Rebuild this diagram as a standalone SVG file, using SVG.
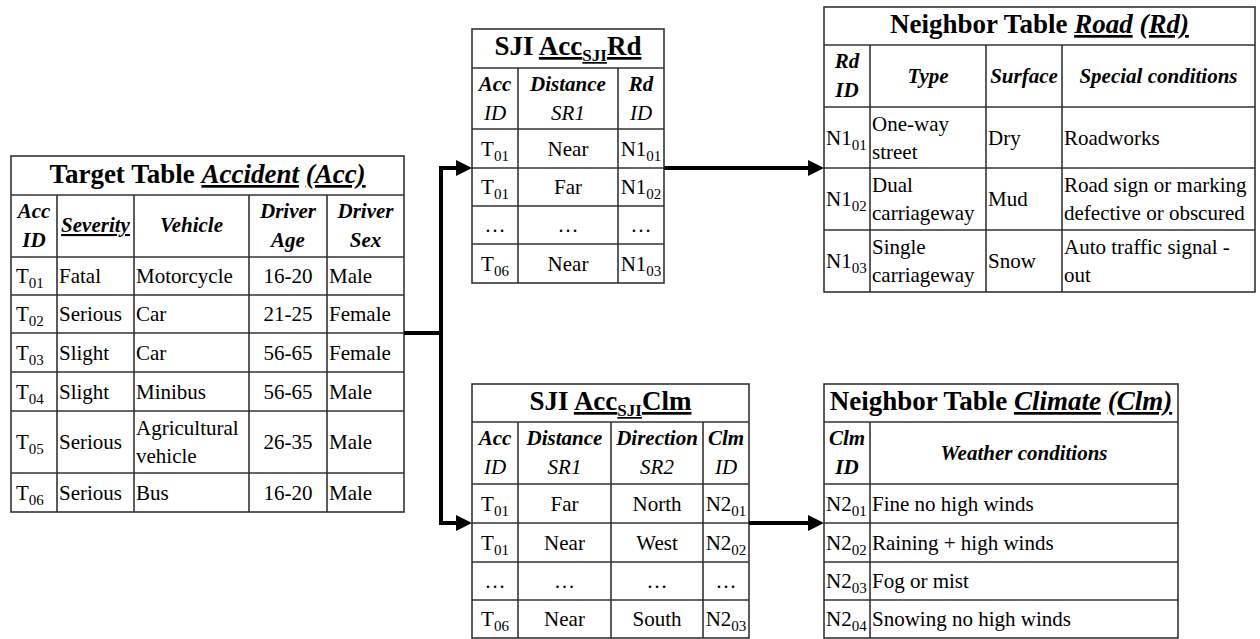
<svg xmlns="http://www.w3.org/2000/svg" width="1260" height="639" viewBox="0 0 1260 639" font-family="'Liberation Serif', 'Nimbus Roman', 'Nimbus Roman No9 L', FreeSerif, 'Noto Serif', 'DejaVu Serif', Times, Georgia, serif">
<style>
text { font-family: 'Liberation Serif', 'Nimbus Roman', 'Nimbus Roman No9 L', FreeSerif, 'Noto Serif', 'DejaVu Serif', Times, Georgia, serif; fill: #000; }
.title { font-size: 27px; font-weight: bold; }
.ts { font-size: 17px; }
.h { font-size: 21px; font-weight: bold; font-style: italic; }
.hi { font-size: 21px; font-style: italic; }
.d { font-size: 21px; }
.sub { font-size: 15px; }
.u { text-decoration: underline; }
.bi { font-style: italic; }
.m { text-anchor: middle; }
.box { fill: #fff; stroke: #333; stroke-width: 1.6; }
.grid { stroke: #333; stroke-width: 1.6; fill: none; }
.conn { stroke: #000; stroke-width: 4; fill: none; stroke-linejoin: miter; }
</style>
<defs>
<marker id="arr" viewBox="0 0 16 16" refX="6" refY="8" markerWidth="16" markerHeight="16" markerUnits="userSpaceOnUse" orient="auto">
<path d="M0,0 L16,8 L0,16 Z" fill="#000"/>
</marker>
</defs>
<rect width="1260" height="639" fill="#fff"/>

<g id="target-accident">
<rect class="box" x="11" y="156" width="393" height="356"/>
<path class="grid" d="M11,195 H404 M11,257 H404 M11,295 H404 M11,333 H404 M11,372 H404 M11,411 H404 M11,473 H404 M57,195 V512 M134,195 V512 M249,195 V512 M327,195 V512"/>
<text class="title m" x="207.5" y="183">Target Table <tspan class="u bi">Accident</tspan> <tspan class="u bi">(Acc)</tspan></text>
<text class="h m" x="34" y="218">Acc</text>
<text class="h m" x="34" y="247">ID</text>
<text class="h m u" x="95.5" y="232">Severity</text>
<text class="h m" x="191.5" y="232">Vehicle</text>
<text class="h m" x="288" y="218">Driver</text>
<text class="h m" x="288" y="247">Age</text>
<text class="h m" x="365.5" y="218">Driver</text>
<text class="h m" x="365.5" y="247">Sex</text>

<text class="d" x="16" y="283">T<tspan class="sub" dy="5">01</tspan></text>
<text class="d" x="59" y="283">Fatal</text>
<text class="d" x="136" y="283">Motorcycle</text>
<text class="d m" x="288" y="283">16-20</text>
<text class="d" x="329" y="283">Male</text>

<text class="d" x="16" y="321">T<tspan class="sub" dy="5">02</tspan></text>
<text class="d" x="59" y="321">Serious</text>
<text class="d" x="136" y="321">Car</text>
<text class="d m" x="288" y="321">21-25</text>
<text class="d" x="329" y="321">Female</text>

<text class="d" x="16" y="359.5">T<tspan class="sub" dy="5">03</tspan></text>
<text class="d" x="59" y="359.5">Slight</text>
<text class="d" x="136" y="359.5">Car</text>
<text class="d m" x="288" y="359.5">56-65</text>
<text class="d" x="329" y="359.5">Female</text>

<text class="d" x="16" y="398.5">T<tspan class="sub" dy="5">04</tspan></text>
<text class="d" x="59" y="398.5">Slight</text>
<text class="d" x="136" y="398.5">Minibus</text>
<text class="d m" x="288" y="398.5">56-65</text>
<text class="d" x="329" y="398.5">Male</text>

<text class="d" x="16" y="449">T<tspan class="sub" dy="5">05</tspan></text>
<text class="d" x="59" y="449">Serious</text>
<text class="d" x="136" y="435">Agricultural</text>
<text class="d" x="136" y="463">vehicle</text>
<text class="d m" x="288" y="449">26-35</text>
<text class="d" x="329" y="449">Male</text>

<text class="d" x="16" y="499.5">T<tspan class="sub" dy="5">06</tspan></text>
<text class="d" x="59" y="499.5">Serious</text>
<text class="d" x="136" y="499.5">Bus</text>
<text class="d m" x="288" y="499.5">16-20</text>
<text class="d" x="329" y="499.5">Male</text>
</g>

<g id="sji-acc-rd">
<rect class="box" x="472" y="29" width="192" height="254"/>
<path class="grid" d="M472,68 H664 M472,129 H664 M472,168 H664 M472,206 H664 M472,244 H664 M518,68 V283 M618,68 V283"/>
<text class="title m" x="568" y="55">SJI <tspan class="u">Acc</tspan><tspan class="ts u" dy="6">SJI</tspan><tspan class="u" dy="-6">Rd</tspan></text>
<text class="h m" x="495" y="91">Acc</text>
<text class="hi m" x="495" y="120">ID</text>
<text class="h m" x="568" y="91">Distance</text>
<text class="hi m" x="568" y="120">SR1</text>
<text class="h m" x="641" y="91">Rd</text>
<text class="hi m" x="641" y="120">ID</text>

<text class="d m" x="495" y="155.5">T<tspan class="sub" dy="5">01</tspan></text>
<text class="d m" x="568" y="155.5">Near</text>
<text class="d m" x="641" y="155.5">N1<tspan class="sub" dy="5">01</tspan></text>

<text class="d m" x="495" y="194">T<tspan class="sub" dy="5">01</tspan></text>
<text class="d m" x="568" y="194">Far</text>
<text class="d m" x="641" y="194">N1<tspan class="sub" dy="5">02</tspan></text>

<text class="d m" x="495" y="232">…</text>
<text class="d m" x="568" y="232">…</text>
<text class="d m" x="641" y="232">…</text>

<text class="d m" x="495" y="270.5">T<tspan class="sub" dy="5">06</tspan></text>
<text class="d m" x="568" y="270.5">Near</text>
<text class="d m" x="641" y="270.5">N1<tspan class="sub" dy="5">03</tspan></text>
</g>

<g id="sji-acc-clm">
<rect class="box" x="472" y="384" width="277" height="254"/>
<path class="grid" d="M472,422 H749 M472,484 H749 M472,523 H749 M472,562 H749 M472,600 H749 M518,422 V638 M611,422 V638 M703,422 V638"/>
<text class="title m" x="610.5" y="410">SJI <tspan class="u">Acc</tspan><tspan class="ts u" dy="6">SJI</tspan><tspan class="u" dy="-6">Clm</tspan></text>
<text class="h m" x="495" y="445">Acc</text>
<text class="hi m" x="495" y="474">ID</text>
<text class="h m" x="564.5" y="445">Distance</text>
<text class="hi m" x="564.5" y="474">SR1</text>
<text class="h m" x="657" y="445">Direction</text>
<text class="hi m" x="657" y="474">SR2</text>
<text class="h m" x="726" y="445">Clm</text>
<text class="hi m" x="726" y="474">ID</text>

<text class="d m" x="495" y="510.5">T<tspan class="sub" dy="5">01</tspan></text>
<text class="d m" x="564.5" y="510.5">Far</text>
<text class="d m" x="657" y="510.5">North</text>
<text class="d m" x="726" y="510.5">N2<tspan class="sub" dy="5">01</tspan></text>

<text class="d m" x="495" y="549.5">T<tspan class="sub" dy="5">01</tspan></text>
<text class="d m" x="564.5" y="549.5">Near</text>
<text class="d m" x="657" y="549.5">West</text>
<text class="d m" x="726" y="549.5">N2<tspan class="sub" dy="5">02</tspan></text>

<text class="d m" x="495" y="588">…</text>
<text class="d m" x="564.5" y="588">…</text>
<text class="d m" x="657" y="588">…</text>
<text class="d m" x="726" y="588">…</text>

<text class="d m" x="495" y="626">T<tspan class="sub" dy="5">06</tspan></text>
<text class="d m" x="564.5" y="626">Near</text>
<text class="d m" x="657" y="626">South</text>
<text class="d m" x="726" y="626">N2<tspan class="sub" dy="5">03</tspan></text>
</g>

<g id="neighbor-road">
<rect class="box" x="824" y="7" width="431" height="285"/>
<path class="grid" d="M824,45 H1255 M824,107 H1255 M824,168 H1255 M824,230 H1255 M870,45 V292 M986,45 V292 M1062,45 V292"/>
<text class="title m" x="1039.5" y="33">Neighbor Table <tspan class="u bi">Road</tspan> <tspan class="u bi">(Rd)</tspan></text>
<text class="h m" x="847" y="68">Rd</text>
<text class="h m" x="847" y="97">ID</text>
<text class="h m" x="928" y="83">Type</text>
<text class="h m" x="1024" y="83">Surface</text>
<text class="h m" x="1158.5" y="83">Special conditions</text>

<text class="d" x="826" y="144.5">N1<tspan class="sub" dy="5">01</tspan></text>
<text class="d" x="872" y="131">One-way</text>
<text class="d" x="872" y="159">street</text>
<text class="d" x="988" y="144.5">Dry</text>
<text class="d" x="1064" y="144.5">Roadworks</text>

<text class="d" x="826" y="206">N1<tspan class="sub" dy="5">02</tspan></text>
<text class="d" x="872" y="192">Dual</text>
<text class="d" x="872" y="220">carriageway</text>
<text class="d" x="988" y="206">Mud</text>
<text class="d" x="1064" y="192">Road sign or marking</text>
<text class="d" x="1064" y="220">defective or obscured</text>

<text class="d" x="826" y="268">N1<tspan class="sub" dy="5">03</tspan></text>
<text class="d" x="872" y="254">Single</text>
<text class="d" x="872" y="282">carriageway</text>
<text class="d" x="988" y="268">Snow</text>
<text class="d" x="1064" y="254">Auto traffic signal -</text>
<text class="d" x="1064" y="282">out</text>
</g>

<g id="neighbor-climate">
<rect class="box" x="824" y="384" width="354" height="254"/>
<path class="grid" d="M824,422 H1178 M824,484 H1178 M824,523 H1178 M824,562 H1178 M824,600 H1178 M870,422 V638"/>
<text class="title m" x="1001" y="410">Neighbor Table <tspan class="u bi">Climate</tspan> <tspan class="u bi">(Clm)</tspan></text>
<text class="h m" x="847" y="445">Clm</text>
<text class="h m" x="847" y="474">ID</text>
<text class="h m" x="1024" y="460">Weather conditions</text>

<text class="d" x="826" y="510.5">N2<tspan class="sub" dy="5">01</tspan></text>
<text class="d" x="872" y="510.5">Fine no high winds</text>
<text class="d" x="826" y="549.5">N2<tspan class="sub" dy="5">02</tspan></text>
<text class="d" x="872" y="549.5">Raining + high winds</text>
<text class="d" x="826" y="588">N2<tspan class="sub" dy="5">03</tspan></text>
<text class="d" x="872" y="588">Fog or mist</text>
<text class="d" x="826" y="626">N2<tspan class="sub" dy="5">04</tspan></text>
<text class="d" x="872" y="626">Snowing no high winds</text>
</g>

<g id="connectors">
<path class="conn" d="M404,333 H441"/>
<path class="conn" d="M441,333 V168 H462" marker-end="url(#arr)"/>
<path class="conn" d="M441,333 V523 H462" marker-end="url(#arr)"/>
<path class="conn" d="M664,168 H814" marker-end="url(#arr)"/>
<path class="conn" d="M749,523 H814" marker-end="url(#arr)"/>
</g>
</svg>
